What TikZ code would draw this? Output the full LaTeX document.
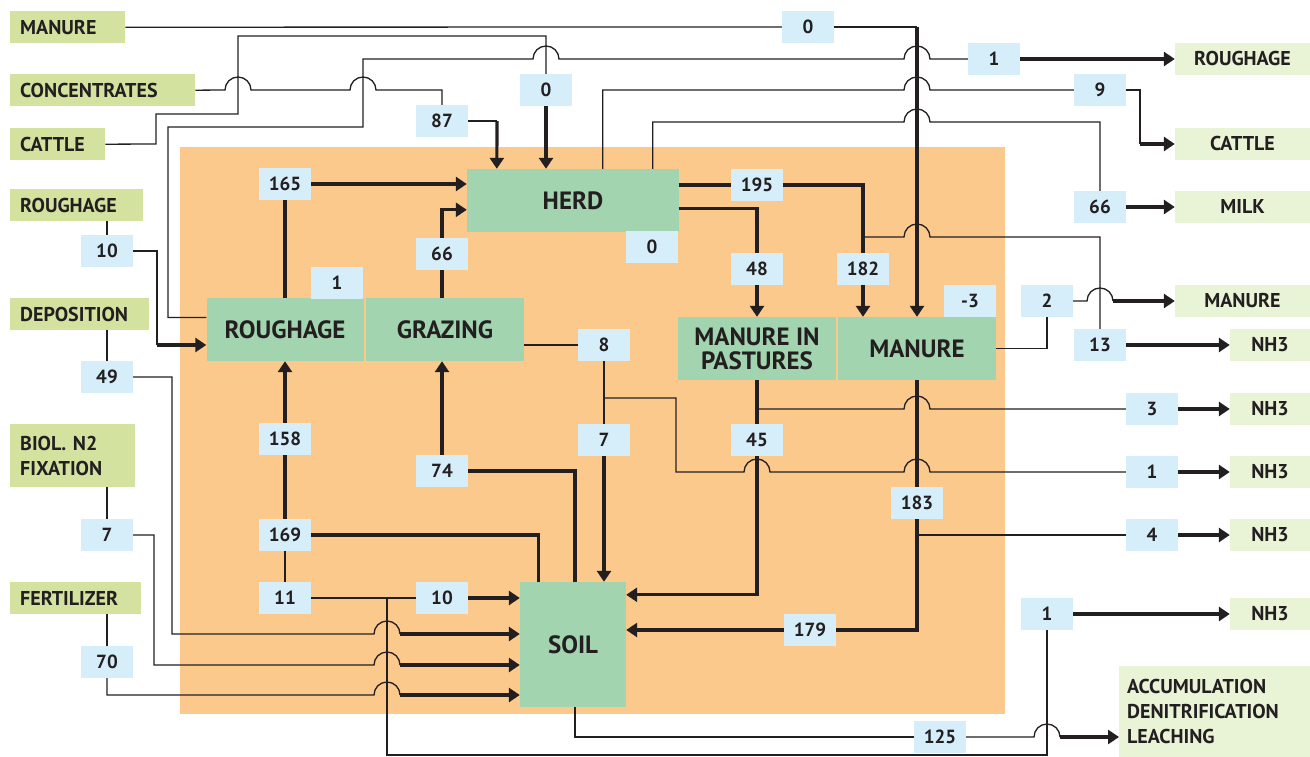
\documentclass[tikz,border=0pt]{standalone}
\usepackage{fontspec}
\setmainfont{PT Sans}
\usetikzlibrary{arrows.meta,positioning,calc}
\definecolor{ink}{HTML}{231F20}
\definecolor{farmbg}{HTML}{FBC98C}
\definecolor{poolgreen}{HTML}{A3D4B0}
\definecolor{valblue}{HTML}{D5EEFA}
\definecolor{ingreen}{HTML}{D4E2A0}
\definecolor{outgreen}{HTML}{E9F3D6}
\newcommand{\lblfont}{\fontsize{20}{25}\selectfont\bfseries}
\newcommand{\poolfont}{\fontsize{25}{24}\selectfont\bfseries}
\newcommand{\valfont}{\fontsize{19}{22}\selectfont\bfseries}
% line that jumps over a crossing vertical at x=#1
\newcommand{\hopx}[2]{-- (#1-13,#2) arc[start angle=180,end angle=360,radius=13]}

\begin{document}
\begin{tikzpicture}[x=1pt, y=-1pt, text=ink,
    inbox/.style={fill=ingreen, font=\lblfont, inner xsep=10pt, inner ysep=0pt,
                  minimum height=32pt, align=left, anchor=north west},
    outbox/.style={fill=outgreen, font=\lblfont, inner sep=0pt, minimum height=32pt},
    pool/.style={fill=poolgreen, font=\poolfont, inner sep=0pt, align=center,
                 minimum width=158pt, minimum height=63pt},
    val/.style={fill=valblue, font=\valfont, inner sep=0pt, minimum width=52pt,
                minimum height=32pt},
    flow/.style={draw=ink, line width=1.3pt},
    bigflow/.style={draw=ink, line width=3.2pt},
    into/.style={-{Triangle[length=11pt,width=14pt]}}]
  \useasboundingbox (0,0) rectangle (1310,757);
  \fill[white] (0,0) rectangle (1310,757);
  \fill[farmbg] (180,147) rectangle (1005,714);

  % inputs
  \node[inbox, text width=95pt] (srcmanure) at (10,11) {MANURE};
  \node[inbox, text width=165pt] (srcconc) at (10,74) {CONCENTRATES};
  \node[inbox, text width=75pt] (srccattle) at (10,128) {CATTLE};
  \node[inbox, text width=113pt] (srcrough) at (10,189) {ROUGHAGE};
  \node[inbox, text width=119pt] (srcdepo) at (10,298) {DEPOSITION};
  \node[inbox, text width=105pt, minimum height=63pt] (srcbiol) at (10,424) {BIOL. N2\\FIXATION};
  \node[inbox, text width=111pt] (srcfert) at (10,582) {FERTILIZER};

  % outputs
  \node[outbox, minimum width=135pt] (outrough) at (1242.5,59) {ROUGHAGE};
  \node[outbox, minimum width=135pt] (outcattle) at (1242.5,144) {CATTLE};
  \node[outbox, minimum width=135pt] (outmilk) at (1242.5,207) {MILK};
  \node[outbox, minimum width=135pt] (outmanure) at (1242.5,301) {MANURE};
  \node[outbox, minimum width=80pt] (nhA) at (1270,345) {NH3};
  \node[outbox, minimum width=80pt] (nhB) at (1270,409) {NH3};
  \node[outbox, minimum width=80pt] (nhC) at (1270,472) {NH3};
  \node[outbox, minimum width=80pt] (nhD) at (1270,535) {NH3};
  \node[outbox, minimum width=80pt] (nhE) at (1270,614) {NH3};
  \node[outbox, anchor=north west, minimum width=191pt, minimum height=91pt,
        text width=175pt, inner xsep=8pt, align=left] (outaccu) at (1119,666)
        {ACCUMULATION\\DENITRIFICATION\\LEACHING};

  % pools
  \node[pool, minimum width=212pt] (herd) at (573,200.5) {HERD};
  \node[pool, minimum width=157pt] (roughage) at (285,329.5) {ROUGHAGE};
  \node[pool] (grazing) at (445,329.5) {GRAZING};
  \node[pool] (pasture) at (757,348.5) {MANURE IN\\PASTURES};
  \node[pool] (manure) at (917,348.5) {MANURE};
  \node[pool, minimum width=106pt, minimum height=125pt] (soil) at (573,644.5) {SOIL};

  % flow values
  \node[val] (vManTop) at (808,27) {0};
  \node[val] (vRoughOut) at (994,59) {1};
  \node[val] (vCattleIn) at (546,90) {0};
  \node[val] (vConc) at (442,121) {87};
  \node[val] (vCattleOut) at (1100,90) {9};
  \node[val] (vMilk) at (1100,207) {66};
  \node[val] (vFeed) at (285,184) {165};
  \node[val] (vExcr) at (757,185) {195};
  \node[val] (vHerdStock) at (652,247) {0};
  \node[val] (vRoughIn) at (107,251) {10};
  \node[val] (vGraze) at (442,254) {66};
  \node[val] (vPasture) at (757,269) {48};
  \node[val] (vStable) at (863,269) {182};
  \node[val] (vRoughStock) at (337,283) {1};
  \node[val] (vManStock) at (970,301) {-3};
  \node[val] (vManOut) at (1047,301) {2};
  \node[val] (vStableNH) at (1100,345) {13};
  \node[val] (vGrazLoss) at (604,345) {8};
  \node[val] (vDepo) at (107,377) {49};
  \node[val] (vPastNH) at (1152,409) {3};
  \node[val] (vRoughUp) at (285,439) {158};
  \node[val] (vGrazSoil) at (604,440) {7};
  \node[val] (vPastSoil) at (757,440) {45};
  \node[val] (vGrazUp) at (442,471) {74};
  \node[val] (vGrazNH) at (1152,472) {1};
  \node[val] (vStoreOut) at (917,503) {183};
  \node[val] (vBiol) at (107,535) {7};
  \node[val] (vSoilUp) at (285,535) {169};
  \node[val] (vApplNH) at (1152,535) {4};
  \node[val] (vResid) at (285,598) {11};
  \node[val] (vResidSoil) at (442,598) {10};
  \node[val] (vResidNH) at (1047,614) {1};
  \node[val] (vAppl) at (810,630) {179};
  \node[val] (vFert) at (107,662) {70};
  \node[val] (vLoss) at (940,737) {125};

  % junctions
  \coordinate (jManTop) at (917,27);
  \coordinate (jConc) at (497,121);
  \coordinate (jRoughIn) at (157,345);
  \coordinate (jDepo) at (400,634);
  \coordinate (jBiol) at (400,665);
  \coordinate (jFert) at (400,695);
  \coordinate (jExcr) at (863,237);
  \coordinate (jCattleOut) at (1140,144);
  \coordinate (jManOut) at (1113,301);
  \coordinate (jGraz) at (604,398);
  \coordinate (jPast) at (757,409);
  \coordinate (jAppl) at (917,535);
  \coordinate (jResid) at (387,598);
  \coordinate (jLoss) at (1060,737);

  % purchases
  \draw[flow] (srcmanure.east) -- (vManTop.west);
  \draw[flow] (vManTop.east) -- (jManTop);
  \draw[bigflow, into] (jManTop) -- (manure.north);
  \draw[flow] (srcconc.east) \hopx{238}{90} \hopx{363}{90} -| (vConc.north);
  \draw[flow] (vConc.east) -- (jConc);
  \draw[bigflow, into] (jConc) -- ([xshift=30pt]herd.north west);
  \draw[flow] (srccattle.east) -- (156,144) -- (156,114) -- (238,114) -- (238,36) -| (vCattleIn.north);
  \draw[bigflow, into] (vCattleIn.south) -- (vCattleIn.south |- herd.north);
  \draw[flow] (srcrough.south -| vRoughIn) -- (vRoughIn.north);
  \draw[flow] (vRoughIn.east) -| (jRoughIn);
  \draw[bigflow, into] (jRoughIn) -- (jRoughIn -| roughage.west);

  % roughage sold
  \draw[flow] ([yshift=12pt]roughage.west) -| (168,127) -| (363,59)
    \hopx{546}{59} \hopx{917}{59} -- (vRoughOut.west);
  \draw[bigflow, into] (vRoughOut.east) -- (outrough.west);

  % feed to herd
  \draw[bigflow] (roughage.north) -- (vFeed.south);
  \draw[bigflow, into] (vFeed.east) -- (vFeed.east -| herd.west);
  \draw[bigflow] (grazing.north -| vGraze) -- (vGraze.south);
  \draw[bigflow, into] (vGraze.north) |- ([yshift=-41pt]herd.north west);

  % herd outputs
  \draw[flow] ([xshift=136pt]herd.north west) |- (800,90) \hopx{917}{90} -- (vCattleOut.west);
  \draw[flow] (vCattleOut.east) -| (jCattleOut);
  \draw[bigflow, into] (jCattleOut) -- (outcattle.west);
  \draw[flow] ([xshift=186pt]herd.north west) |- (800,122) \hopx{917}{122} -| (vMilk.north);
  \draw[bigflow, into] (vMilk.east) -- (outmilk.west);
  \draw[bigflow] (vExcr.west -| herd.east) -- (vExcr.west);
  \draw[bigflow] (vExcr.east) -| (jExcr) -- (vStable.north);
  \draw[bigflow, into] (vStable.south) -- (vStable.south |- manure.north);
  \draw[flow] (jExcr) \hopx{917}{237} -| (vStableNH.north);
  \draw[bigflow, into] (vStableNH.east) -- (nhA.west);
  \draw[bigflow] ([yshift=-40pt]herd.north east) -| (vPasture.north);
  \draw[bigflow, into] (vPasture.south) -- (pasture.north);

  % manure
  \draw[flow] (manure.east) -| (vManOut.south);
  \draw[flow] (vManOut.east) \hopx{1100}{301};
  \draw[bigflow, into] (jManOut) -- (outmanure.west);
  \draw[bigflow] (manure.south) -- (vStoreOut.north);
  \draw[flow] (jAppl) -- (vApplNH.west);
  \draw[bigflow, into] (vApplNH.east) -- (nhD.west);
  \draw[bigflow] (vStoreOut.south) |- (vAppl.east);
  \draw[bigflow, into] (vAppl.west) -- (vAppl.west -| soil.east);
  \draw[bigflow] (pasture.south) -- (vPastSoil.north);
  \draw[flow] (jPast) \hopx{917}{409} -- (vPastNH.west);
  \draw[bigflow, into] (vPastNH.east) -- (nhB.west);
  \draw[bigflow, into] (vPastSoil.south) |- ([yshift=-13pt]soil.north east);

  % grazing losses
  \draw[flow] (vGrazLoss.west -| grazing.east) -- (vGrazLoss.west);
  \draw[flow] (vGrazLoss.south) -- (vGrazSoil.north);
  \draw[bigflow, into] (vGrazSoil.south) -- (vGrazSoil.south |- soil.north);
  \draw[flow] (jGraz) -| (676,472) \hopx{757}{472} \hopx{917}{472} -- (vGrazNH.west);
  \draw[bigflow, into] (vGrazNH.east) -- (nhC.west);

  % soil
  \draw[bigflow] ([xshift=2pt]soil.north) |- (vGrazUp.east);
  \draw[bigflow, into] (vGrazUp.north) -- (vGrazUp.north |- grazing.south);
  \draw[bigflow] ([xshift=19pt]soil.north west) |- (vSoilUp.east);
  \draw[bigflow] (vSoilUp.north) -- (vRoughUp.south);
  \draw[bigflow, into] (vRoughUp.north) -- (roughage.south);
  \draw[flow] (vSoilUp.south) -- (vResid.north);
  \draw[flow] (vResid.east) -- (vResidSoil.west);
  \draw[bigflow, into] (vResidSoil.east) -- (vResidSoil.east -| soil.west);
  \draw[flow] (jResid) -- (387,755) -| (vResidNH.south);
  \draw[bigflow, into] (vResidNH.east) -- (nhE.west);

  % inputs to soil
  \draw[flow] (srcdepo.south -| vDepo) -- (vDepo.north);
  \draw[flow] (vDepo.east) -| (172,634) \hopx{387}{634};
  \draw[bigflow, into] (jDepo) -- (jDepo -| soil.west);
  \draw[flow] (srcbiol.south -| vBiol) -- (vBiol.north);
  \draw[flow] (vBiol.east) -| (154,665) \hopx{387}{665};
  \draw[bigflow, into] (jBiol) -- (jBiol -| soil.west);
  \draw[flow] (srcfert.south -| vFert) -- (vFert.north);
  \draw[flow] (vFert.south) -- (107,695) \hopx{387}{695};
  \draw[bigflow, into] (jFert) -- (jFert -| soil.west);

  % soil losses
  \draw[flow] ([xshift=2pt]soil.south) |- (vLoss.west);
  \draw[flow] (vLoss.east) \hopx{1047}{737};
  \draw[bigflow, into] (jLoss) -- (jLoss -| outaccu.west);
\end{tikzpicture}
\end{document}
